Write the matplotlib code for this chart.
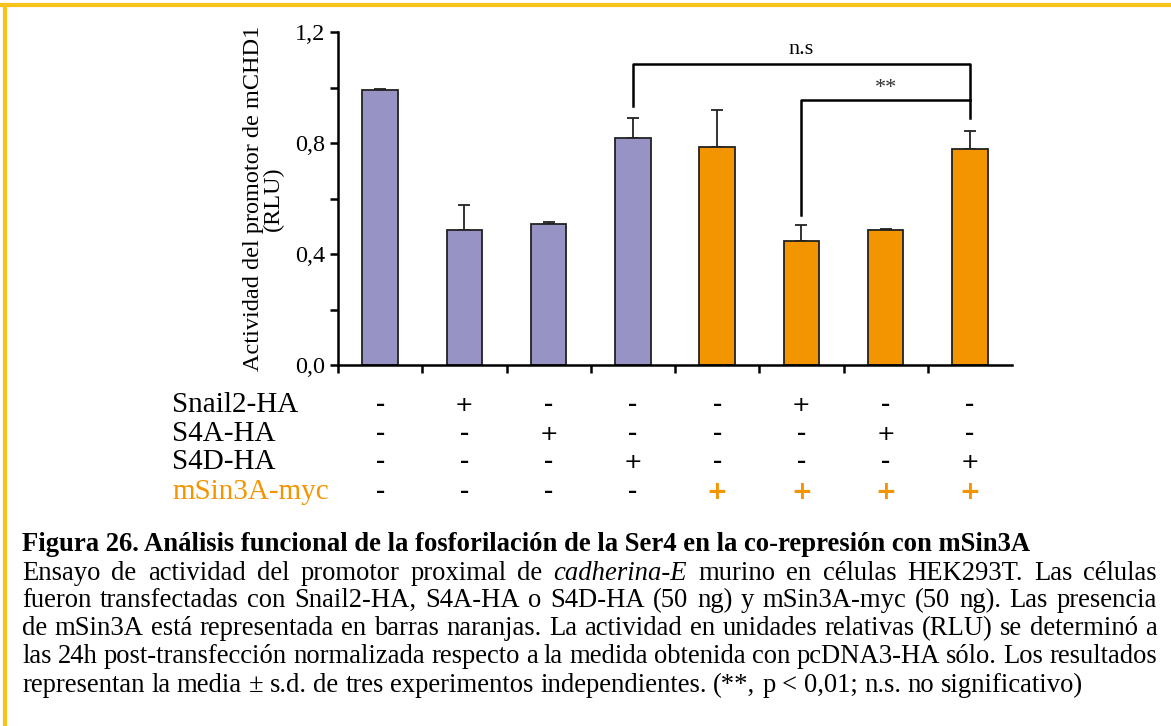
import numpy as np
import matplotlib
matplotlib.use('Agg')
import matplotlib.pyplot as plt
from matplotlib.transforms import blended_transform_factory

# luciferase data (RLU), mean and s.d.
conditions = ['ctrl', 'Snail2', 'S4A', 'S4D', 'mSin3A', 'Snail2+mSin3A', 'S4A+mSin3A', 'S4D+mSin3A']
means = [0.99, 0.486, 0.508, 0.818, 0.786, 0.447, 0.486, 0.778]
errors = [0.005, 0.091, 0.007, 0.072, 0.133, 0.058, 0.003, 0.065]
with_msin3a = [False, False, False, False, True, True, True, True]

row_labels = ['Snail2-HA', 'S4A-HA', 'S4D-HA', 'mSin3A-myc']
row_signs = [
    ['-', '+', '-', '-', '-', '+', '-', '-'],
    ['-', '-', '+', '-', '-', '-', '+', '-'],
    ['-', '-', '-', '+', '-', '-', '-', '+'],
    ['-', '-', '-', '-', '+', '+', '+', '+'],
]

title = 'Figura 26. Análisis funcional de la fosforilación de la Ser4 en la co-represión con mSin3A'
caption = [
    [('Ensayo de actividad del promotor proximal de', 'normal'), ('cadherina-E', 'italic'),
     ('murino en células HEK293T. Las células', 'normal')],
    [('fueron transfectadas con Snail2-HA, S4A-HA o S4D-HA (50 ng) y mSin3A-myc (50 ng). Las presencia', 'normal')],
    [('de mSin3A está representada en barras naranjas. La actividad en unidades relativas (RLU) se determinó a', 'normal')],
    [('las 24h post-transfección normalizada respecto a la medida obtenida con pcDNA3-HA sólo. Los resultados', 'normal')],
    [('representan la media ± s.d. de tres experimentos independientes. (**, p < 0,01; n.s. no significativo)', 'normal')],
]

PURPLE = '#9794c5'
ORANGE = '#f29500'
W, H = 1171, 726
SERIF = 'Liberation Serif'
CAP_FS = 19.2

fig = plt.figure(figsize=(W / 100, H / 100), dpi=100)
ax = fig.add_axes([338 / W, 1 - 365 / H, (1012 - 338) / W, (365 - 32) / H])

x = np.arange(len(means))
colors = [ORANGE if m else PURPLE for m in with_msin3a]
ax.bar(x, means, width=0.42, color=colors, edgecolor='#222222', linewidth=1.3, zorder=2)
ax.errorbar(x, means, yerr=[np.zeros(len(errors)), errors], fmt='none', ecolor='#222222',
            elinewidth=1.3, capsize=4, capthick=1.3, zorder=1)

ax.set_xlim(-0.5, 7.5)
ax.set_ylim(0, 1.2)
ax.spines['top'].set_visible(False)
ax.spines['right'].set_visible(False)
ax.spines['left'].set_linewidth(1.8)
ax.spines['bottom'].set_linewidth(1.8)
ax.set_yticks([0, 0.4, 0.8, 1.2])
ax.set_yticklabels(['0,0', '0,4', '0,8', '1,2'], fontfamily=SERIF, fontsize=17.5)
ax.set_yticks([0.2, 0.6, 1.0], minor=True)
ax.set_xticks(np.arange(-0.5, 7.0, 1.0))
ax.set_xticklabels([])
ax.tick_params(axis='both', which='both', direction='out', length=6, width=1.8)
ax.tick_params(axis='y', pad=3)
ax.set_ylabel('Actividad del promotor de mCHD1\n(RLU)', fontfamily=SERIF, fontsize=17.5,
              linespacing=0.95, labelpad=8)

# significance brackets
lw = 1.8
ax.plot([3, 3, 7, 7], [0.933, 1.085, 1.085, 0.89], color='black', lw=lw, clip_on=False)
ax.text(5, 1.102, 'n.s', ha='center', va='bottom', fontfamily=SERIF, fontsize=16)
ax.plot([5, 5, 7], [0.54, 0.955, 0.955], color='black', lw=lw, clip_on=False)
ax.text(6, 0.962, '**', ha='center', va='bottom', fontfamily=SERIF, fontsize=16, color='#333333')

# condition table under the bars
tr = blended_transform_factory(ax.transData, fig.transFigure)
row_y = [405, 434, 462, 492]
for r, (lab, signs) in enumerate(zip(row_labels, row_signs)):
    y = 1 - row_y[r] / H
    col = ORANGE if lab.startswith('mSin3A') else 'black'
    fig.text(172 / W, y, lab, ha='left', va='center', fontfamily=SERIF, fontsize=21, color=col)
    for i, s in enumerate(signs):
        if s == '+':
            if r == 3:
                ax.text(i, y, '+', transform=tr, ha='center', va='center', fontsize=18,
                        fontweight='bold', color=ORANGE, fontfamily='DejaVu Sans')
            else:
                ax.text(i, y, '+', transform=tr, ha='center', va='center', fontsize=16,
                        color='black', fontfamily='DejaVu Sans')
        else:
            ax.text(i, y, '\u2013', transform=tr, ha='center', va='center', fontsize=13,
                    fontweight='bold', color='black', fontfamily='DejaVu Sans')

# caption, justified between left and right margins
fig.text(22 / W, 1 - 551 / H, title, ha='left', va='baseline', fontfamily=SERIF,
         fontsize=CAP_FS, fontweight='bold')
renderer = fig.canvas.get_renderer()
left_px, right_px = 22, 1157
line_y = [580, 607, 635, 663, 692]
for li, segs in enumerate(caption):
    words = []
    for seg, style in segs:
        for w in seg.split(' '):
            words.append((w, style))
    y = 1 - line_y[li] / H
    texts = [fig.text(0, y, w, ha='left', va='baseline', fontfamily=SERIF, fontsize=CAP_FS,
                      fontstyle=st) for w, st in words]
    widths = [t.get_window_extent(renderer).width for t in texts]
    if li == len(caption) - 1:
        sp = fig.text(0, 0, 'a b', fontfamily=SERIF, fontsize=CAP_FS)
        wa = fig.text(0, 0, 'ab', fontfamily=SERIF, fontsize=CAP_FS)
        gap = sp.get_window_extent(renderer).width - wa.get_window_extent(renderer).width
        sp.remove()
        wa.remove()
    else:
        gap = (right_px - left_px - sum(widths)) / (len(words) - 1)
    xp = left_px
    for t, w in zip(texts, widths):
        t.set_x(xp / W)
        xp += w + gap

# frame lines on the top and left edges
fig.add_artist(plt.Line2D([0, 1], [1 - 5 / H, 1 - 5 / H], color='#f7c21a', lw=3))
fig.add_artist(plt.Line2D([5 / W, 5 / W], [0, 1 - 5 / H], color='#f7c21a', lw=3))

fig.savefig('out.png', dpi=100)
